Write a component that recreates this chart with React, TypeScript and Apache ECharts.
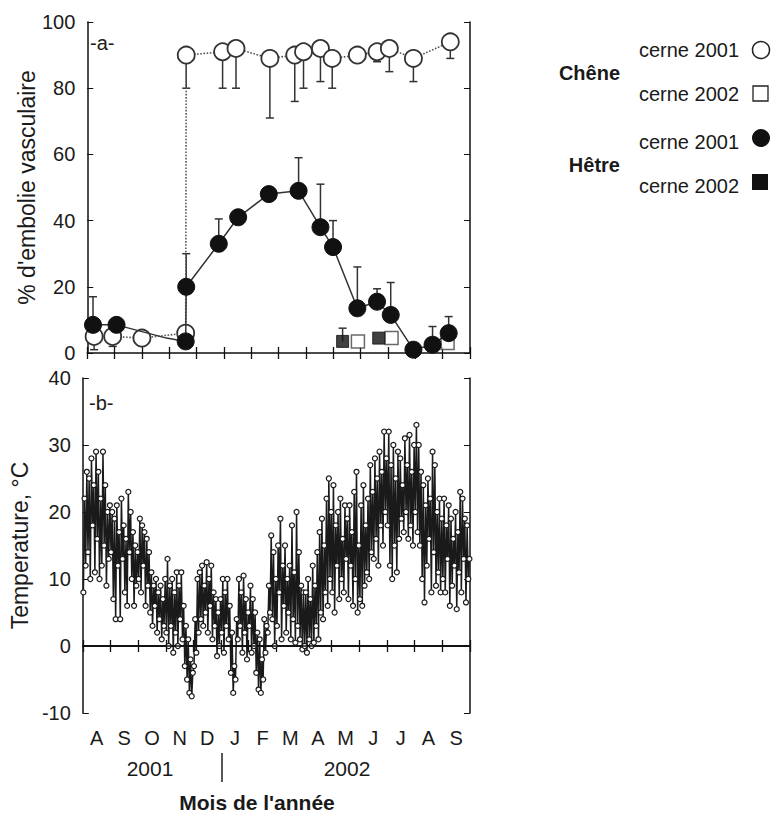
import React, { useEffect, useRef } from "react";
import * as echarts from "echarts";

// ---- Panel a : % embolie (x = month index from 1 Aug 2001) ----
const cheneX2001 = [0.25, 0.93, 2.0, 3.6, 3.62, 4.95, 5.44, 6.68, 7.59, 7.91, 8.53, 8.96, 9.88, 10.6, 11.05, 11.93, 13.28];
const cheneY2001 = [5, 5, 4.5, 6, 90, 91, 92, 89, 90, 91, 92, 89, 90, 91, 92, 89, 94];
const cheneLow2001 = [1, 2, 3, null, 80, 80, 80, 71, 76, 80, 82, 80, 88, 88, 85, 82, 89];

const hetreX2001 = [0.21, 1.07, 2.9, 3.6, 3.62, 4.81, 5.52, 6.64, 7.73, 8.53, 8.99, 9.88, 10.6, 11.1, 11.93, 12.63, 13.22];
const hetreY2001 = [8.5, 8.5, 4.5, 3.5, 20, 33, 41, 48, 49, 38, 32, 13.5, 15.5, 11.5, 1, 2.5, 6];
const hetreHigh2001 = [17, null, null, null, 30, 40.5, null, null, 59, 51, 40, 26, 19.4, 21.3, null, 8, 11];

const cheneX2002 = [9.9, 11.13, 13.18];
const cheneY2002 = [3.5, 4.5, 3];
const hetreX2002 = [9.34, 10.66];
const hetreY2002 = [3.5, 4.5];
const hetreHigh2002 = [7.5, null];

// ---- Panel b : temperature, alternating low/high readings per month ----
const tAug01 = [8, 22, 12, 26, 14, 25, 10, 28, 18, 24, 11, 29, 16, 26, 10, 22, 12, 29, 15, 24, 9, 20, 13, 21];
const tSep01 = [14, 20, 7, 19, 4, 21, 12, 17, 4, 22, 13, 18, 8, 16, 6, 23, 14, 20, 10, 17, 6, 15, 9, 14];
const tOct01 = [10, 19, 8, 18, 12, 17, 6, 16, 9, 14, 5, 11, 3, 9, 6, 10, 2, 8, 4, 9, 1, 7, 3, 10];
const tNov01 = [2, 13, 0, 9, 3, 10, -1, 8, 2, 11, 0, 9, 4, 11, 1, 6, -3, 3, -5, 1, -7, -2, -7.5, -4];
const tDec01 = [-3, 4, -1, 10, 2, 11, 4, 12, 3, 9, 5, 12.5, 2, 10, 6, 12, 1, 8, 3, 7, -1.5, 5, 0, 7];
const tJan02 = [2, 10, -1, 8, 3, 10, 1, 6, -4, 2, -7, -3, -5, 4, 1, 10, 3, 8, -1, 10.5, 2, 7, -2, 5];
const tFeb02 = [3, 9, -1, 7, 0, 5, -4, 2, -6.5, 1, -7, -2, -5, 4, -1, 3, 2, 9, 5, 16.5, 4, 14, 0, 10];
const tMar02 = [3, 15, 8, 19, 1, 12, 6, 15, 2, 10, 5, 12, 1, 18, 4, 11, 0.5, 20, 3, 14, 1, 9, -0.5, 8];
const tApr02 = [0, 8, -1, 10, 1, 7, 0, 12, 0.5, 9, 3, 14, 1, 17, 5, 19, 4, 15, 8, 22, 6, 25, 10, 20];
const tMay02 = [8, 24, 5, 18, 12, 20, 7, 22, 10, 16, 8, 21, 13, 19, 7, 21, 12, 17, 6, 23, 10, 26, 5, 15];
const tJun02 = [7, 21, 6, 24, 9, 18, 11, 22, 10, 27, 14, 23, 13, 28, 16, 25, 12, 29, 18, 26, 15, 32, 20, 28];
const tJul02 = [18, 32, 12, 27, 10, 30, 15, 25, 11, 29, 16, 28, 19, 24, 17, 31, 20, 27, 16, 31.5, 18, 26, 15, 30];
const tAug02 = [20, 33, 17, 30, 15, 26, 10, 24, 6.5, 21, 12, 25, 16, 22, 8, 29, 14, 27, 9, 20, 11, 22, 8, 19];
const tSep02 = [10, 22, 8, 18, 13, 21, 6, 19, 9, 16, 12, 20, 5.5, 17, 11, 23, 8, 22, 13, 19, 6.5, 18, 10, 13];

const monthLabels = ["A", "S", "O", "N", "D", "J", "F", "M", "A", "M", "J", "J", "A", "S"];
const yearLabels = ["2001", "2002"];

const FONT = "'Liberation Sans', Arial, sans-serif";
const INK = "#1a1a1a";

export default function App() {
  const ref = useRef<HTMLDivElement>(null);
  useEffect(() => {
    if (!ref.current) return;
    const chart = echarts.init(ref.current, null, { renderer: "svg" });

    const monthly = [tAug01, tSep01, tOct01, tNov01, tDec01, tJan02, tFeb02, tMar02, tApr02, tMay02, tJun02, tJul02, tAug02, tSep02];
    const tempData: number[][] = [];
    monthly.forEach((arr, m) => {
      arr.forEach((v, i) => tempData.push([m + (i + 0.5) / arr.length, v]));
    });

    const pair = (xs: number[], ys: number[]) => xs.map((x, i) => [x, ys[i]]);
    const errs = (xs: number[], ys: number[], es: (number | null)[]) =>
      xs.map((x, i) => (es[i] == null ? null : [x, ys[i], es[i]])).filter(Boolean);

    const catData = monthLabels.map((_, i) => String(i));
    const axisLineStyle = { color: "#111", width: 1.5 };
    const tickStyle = { show: true, inside: true, length: 6, interval: 0, lineStyle: { color: "#111", width: 1.3 } };

    const catAxis = (gridIndex: number, position: "top" | "bottom", showLabel: boolean, showLine: boolean) => ({
      type: "category",
      gridIndex,
      position,
      data: catData,
      boundaryGap: true,
      axisLine: { show: showLine, lineStyle: axisLineStyle },
      axisTick: tickStyle,
      axisLabel: {
        show: showLabel,
        interval: 0,
        margin: 15,
        fontSize: 20,
        fontFamily: FONT,
        color: INK,
        formatter: (v: string) => monthLabels[+v],
      },
      splitLine: { show: false },
    });
    const valX = (gridIndex: number) => ({
      type: "value",
      gridIndex,
      min: 0,
      max: 14,
      show: false,
    });

    const errRender = (params: any, api: any) => {
      const x = api.value(0);
      const y = api.value(1);
      const e = api.value(2);
      const p0 = api.coord([x, y]);
      const p1 = api.coord([x, e]);
      const st = { stroke: "#333", lineWidth: 1.5 };
      return {
        type: "group",
        children: [
          { type: "line", shape: { x1: p0[0], y1: p0[1], x2: p1[0], y2: p1[1] }, style: st },
          { type: "line", shape: { x1: p1[0] - 4, y1: p1[1], x2: p1[0] + 4, y2: p1[1] }, style: st },
        ],
      };
    };

    const hetreLine = hetreX2001.map((x, i) =>
      i === 2 ? { value: [x, hetreY2001[i]], symbol: "none" } : [x, hetreY2001[i]]
    );

    const yLeft = (gridIndex: number, min: number, max: number, interval: number, name: string, nameGap: number) => ({
      type: "value",
      gridIndex,
      min,
      max,
      interval,
      position: "left",
      name,
      nameLocation: "middle",
      nameGap,
      nameTextStyle: { fontSize: 23, fontFamily: FONT, color: INK },
      axisLine: { show: true, lineStyle: axisLineStyle },
      axisTick: { show: true, inside: true, length: 6, lineStyle: { color: "#111" } },
      axisLabel: { fontSize: 20, fontFamily: FONT, color: INK, margin: 12 },
      splitLine: { show: false },
    });
    const yRight = (gridIndex: number, min: number, max: number, interval: number) => ({
      type: "value",
      gridIndex,
      min,
      max,
      interval,
      position: "right",
      axisLine: { show: true, lineStyle: axisLineStyle },
      axisTick: { show: true, inside: true, length: 6, lineStyle: { color: "#111" } },
      axisLabel: { show: false },
      splitLine: { show: false },
    });

    const option: any = {
      animation: false,
      backgroundColor: "#fff",
      textStyle: { fontFamily: FONT },
      grid: [
        { left: 79, top: 22, width: 391, height: 331 },
        { left: 81, top: 378, width: 389, height: 335 },
      ],
      xAxis: [
        catAxis(0, "bottom", false, false),
        catAxis(0, "top", false, true),
        valX(0),
        catAxis(1, "bottom", true, true),
        catAxis(1, "top", false, true),
        valX(1),
      ],
      yAxis: [
        yLeft(0, 0, 100, 20, "% d'embolie vasculaire", 38),
        yRight(0, 0, 100, 20),
        yLeft(1, -10, 40, 10, "Temperature, °C", 36),
        yRight(1, -10, 40, 10),
      ],
      series: [
        {
          name: "err chene 2001",
          type: "custom",
          xAxisIndex: 2,
          yAxisIndex: 0,
          z: 1,
          encode: { x: 0, y: [1, 2] },
          data: errs(cheneX2001, cheneY2001, cheneLow2001),
          renderItem: errRender,
          silent: true,
        },
        {
          name: "err hetre 2001",
          type: "custom",
          xAxisIndex: 2,
          yAxisIndex: 0,
          z: 1,
          encode: { x: 0, y: [1, 2] },
          data: errs(hetreX2001, hetreY2001, hetreHigh2001),
          renderItem: errRender,
          silent: true,
        },
        {
          name: "err hetre 2002",
          type: "custom",
          xAxisIndex: 2,
          yAxisIndex: 0,
          z: 1,
          encode: { x: 0, y: [1, 2] },
          data: errs(hetreX2002, hetreY2002, hetreHigh2002),
          renderItem: errRender,
          silent: true,
        },
        {
          name: "Chêne cerne 2001",
          type: "line",
          xAxisIndex: 2,
          yAxisIndex: 0,
          z: 3,
          data: pair(cheneX2001, cheneY2001),
          symbol: "circle",
          symbolSize: 17,
          itemStyle: { color: "#fff", borderColor: "#333", borderWidth: 1.8 },
          lineStyle: { type: "dotted", color: "#555", width: 1.6 },
        },
        {
          name: "Hêtre cerne 2001",
          type: "line",
          xAxisIndex: 2,
          yAxisIndex: 0,
          z: 4,
          data: hetreLine,
          symbol: "circle",
          symbolSize: 17,
          itemStyle: { color: "#111", borderColor: "#111", borderWidth: 1 },
          lineStyle: { type: "solid", color: "#333", width: 1.5 },
        },
        {
          name: "Chêne cerne 2002",
          type: "scatter",
          xAxisIndex: 2,
          yAxisIndex: 0,
          z: 3,
          data: pair(cheneX2002, cheneY2002),
          symbol: "rect",
          symbolSize: 13,
          itemStyle: { color: "#fff", borderColor: "#444", borderWidth: 1.5 },
        },
        {
          name: "Hêtre cerne 2002",
          type: "scatter",
          xAxisIndex: 2,
          yAxisIndex: 0,
          z: 4,
          data: pair(hetreX2002, hetreY2002),
          symbol: "rect",
          symbolSize: 12,
          itemStyle: { color: "#111", borderColor: "#111", borderWidth: 1 },
        },
        {
          name: "Température",
          type: "line",
          xAxisIndex: 5,
          yAxisIndex: 2,
          data: tempData,
          symbol: "circle",
          symbolSize: 5,
          itemStyle: { color: "#fff", borderColor: "#1a1a1a", borderWidth: 1.2 },
          lineStyle: { color: "#1a1a1a", width: 1.5 },
          markLine: {
            silent: true,
            symbol: "none",
            label: { show: false },
            lineStyle: { color: "#111", width: 1.5, type: "solid" },
            data: [{ yAxis: 0 }],
          },
        },
      ],
      graphic: [
        { type: "text", left: 90, top: 33, style: { text: "-a-", fontSize: 20, fontFamily: FONT, fill: INK } },
        { type: "text", left: 89, top: 393, style: { text: "-b-", fontSize: 20, fontFamily: FONT, fill: INK } },
        { type: "text", x: 150, y: 768, style: { text: yearLabels[0], fontSize: 21, fontFamily: FONT, fill: INK, align: "center", verticalAlign: "middle" } },
        { type: "text", x: 347, y: 768, style: { text: yearLabels[1], fontSize: 21, fontFamily: FONT, fill: INK, align: "center", verticalAlign: "middle" } },
        { type: "line", shape: { x1: 222, y1: 753, x2: 222, y2: 782 }, style: { stroke: "#222", lineWidth: 1.5 } },
        { type: "text", x: 257, y: 802, style: { text: "Mois de l'année", fontSize: 21, fontWeight: "bold", fontFamily: FONT, fill: INK, align: "center", verticalAlign: "middle" } },
        // legend
        { type: "text", x: 739, y: 50, style: { text: "cerne 2001", fontSize: 20, fontFamily: FONT, fill: INK, align: "right", verticalAlign: "middle" } },
        { type: "circle", shape: { cx: 761, cy: 50, r: 8.5 }, style: { fill: "#fff", stroke: "#222", lineWidth: 1.5 } },
        { type: "text", x: 620, y: 73, style: { text: "Chêne", fontSize: 20, fontWeight: "bold", fontFamily: FONT, fill: INK, align: "right", verticalAlign: "middle" } },
        { type: "text", x: 739, y: 94, style: { text: "cerne 2002", fontSize: 20, fontFamily: FONT, fill: INK, align: "right", verticalAlign: "middle" } },
        { type: "rect", shape: { x: 753, y: 86, width: 15, height: 15 }, style: { fill: "#fff", stroke: "#222", lineWidth: 1.3 } },
        { type: "text", x: 739, y: 142, style: { text: "cerne 2001", fontSize: 20, fontFamily: FONT, fill: INK, align: "right", verticalAlign: "middle" } },
        { type: "circle", shape: { cx: 761, cy: 138, r: 9 }, style: { fill: "#111" } },
        { type: "text", x: 620, y: 165, style: { text: "Hêtre", fontSize: 20, fontWeight: "bold", fontFamily: FONT, fill: INK, align: "right", verticalAlign: "middle" } },
        { type: "text", x: 739, y: 186, style: { text: "cerne 2002", fontSize: 20, fontFamily: FONT, fill: INK, align: "right", verticalAlign: "middle" } },
        { type: "rect", shape: { x: 752, y: 174, width: 16, height: 16 }, style: { fill: "#111" } },
      ],
    };
    chart.setOption(option);
    return () => chart.dispose();
  }, []);
  return (
    <div
      ref={ref}
      style={{ position: "absolute", left: 0, top: 0, width: 773, height: 815, background: "#fff" }}
    />
  );
}
